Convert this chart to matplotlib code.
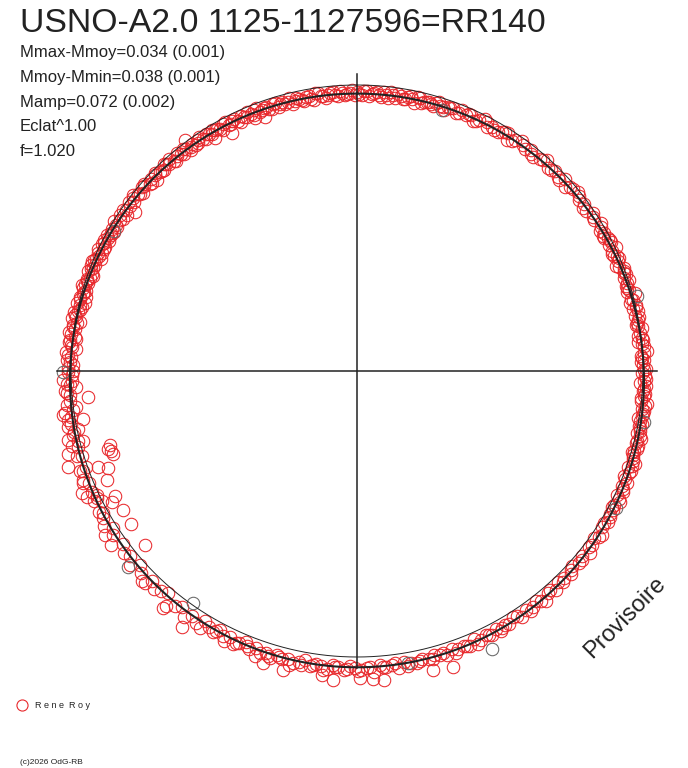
import numpy as np
import matplotlib.pyplot as plt

plt.rcParams['font.family'] = ['Liberation Sans', 'DejaVu Sans']

# observations: phase angle (deg, clockwise from top) and magnitude offset
# (radius = 1 + dmag, unit circle = mean magnitude)
top_phase = [0, 1, 2, 3, 4, 5, 6, 7, 8, 9, 10, 11, 12, 13, 14, 15, 16, 17, 18, 19,
             20, 21, 22, 23, 24, 25, 26, 27, 28, 29,
             0.5, 1.5, 2.5, 3.5, 4.5, 5.5, 6.5, 7.5, 8.5, 9.5, 10.5, 11.5, 12.5,
             13.5, 14.5, 15.5, 16.5, 17.5, 18.5, 19.5,
             30.5, 31.8, 33, 34.4, 35.6, 37, 38.2, 39.5, 40.8, 42, 43.3, 44.6, 46,
             47.2, 48.5, 49.8, 51, 52.4, 53.6, 55, 56.2, 57.5, 58.8, 60,
             21.5, 23.5, 25.5, 27.5, 29.5, 31.2, 32.4, 34, 36.3, 38.8, 41.4, 43.9,
             46.6, 49.2, 51.7, 54.3, 56.8, 59.4]
top_dmag = [-0.025, -0.035, -0.019, -0.031, -0.022, -0.040, -0.028, -0.016, -0.037, -0.026,
            -0.033, -0.019, -0.041, -0.022, -0.029, -0.026, -0.035, -0.017, -0.031, -0.023,
            -0.023, -0.032, -0.016, -0.028, -0.019, -0.037, -0.025, -0.013, -0.034, -0.023,
            -0.030, -0.021, -0.036, -0.026, -0.033, -0.019, -0.038, -0.027, -0.022, -0.034,
            -0.025, -0.031, -0.020, -0.036, -0.027, -0.033, -0.023, -0.030, -0.038, -0.026,
            -0.030, -0.017, -0.036, -0.020, -0.011, -0.026, -0.016, -0.031, -0.021, -0.006,
            -0.027, -0.016, -0.022, -0.010, -0.029, -0.013, -0.007, -0.021, -0.015, -0.024,
            -0.009, -0.016, -0.001, -0.019,
            -0.029, -0.020, -0.033, -0.018, -0.030, -0.024, -0.013, -0.030, -0.019, -0.027,
            -0.015, -0.024, -0.030, -0.018, -0.012, -0.025, -0.014, -0.008]

right_phase = [60.8, 61.7, 62.6, 63.5, 64.4, 65.3, 66.2, 67.1, 68, 68.9, 69.8, 70.7, 71.6,
               72.5, 73.4, 74.3, 75.2, 76.1, 77, 77.9, 78.8, 79.7, 80.6, 81.5, 82.4, 83.3,
               84.2, 85.1, 86, 86.9, 87.8, 88.7, 89.6,
               62, 65.8, 69.4, 73, 76.6, 80.2, 83.8, 87.4, 91, 94, 97, 100, 103, 106, 109,
               61.2, 63, 64.8, 66.6, 68.4, 70.2, 72, 73.8, 75.6, 77.4, 79.2, 81, 82.8, 84.6,
               86.4, 88.2, 89.9,
               90.5, 91.5, 92.5, 93.5, 94.5, 95.5, 96.5, 97.5, 98.5, 99.5, 100.5, 101.5,
               102.5, 103.5, 104.5, 105.5, 106.5, 107.5, 108.5, 109.5, 110.5, 111.5, 112.5,
               113.5, 114.5, 115.5, 116.5, 117.5, 118.5, 119.5,
               92, 93, 95, 96, 98, 99, 101, 102, 104, 105, 107, 108,
               121, 122.4, 123.8, 125.2, 126.6, 128, 129.4, 130.8, 132.2, 133.6, 135, 136.4,
               137.8, 139.2, 140.6, 142, 143.4, 144.8, 146.2, 147.6, 149,
               110, 112, 114, 116, 118, 120, 121.7, 124.5, 127.3, 130, 132.9, 135.7, 138.5,
               141.3, 144.1, 146.9, 149.7]
right_dmag = [-0.010, -0.020, -0.002, -0.014, 0.003, -0.020, -0.006, -0.010, -0.022, -0.001,
              -0.007, -0.012, 0.003, -0.013, -0.006, 0.010, -0.009, -0.016, 0.001, 0.005,
              -0.009, -0.002, -0.011, 0.009, -0.003, 0.002, -0.012, 0.006, 0.015, -0.006,
              0.004, -0.001, 0.011,
              -0.006, -0.015, -0.004, -0.011, 0.003, -0.007, 0.006, -0.004, 0.007, 0.001,
              0.013, 0.004, 0.014, 0.009, 0.018,
              -0.017, -0.005, -0.013, -0.003, -0.014, -0.002, -0.009, -0.016, -0.004, -0.010,
              0.003, -0.005, -0.010, 0.001, 0.007, -0.006, 0.004,
              -0.002, 0.012, -0.009, 0.006, 0.010, -0.003, 0.019, 0.005, 0.011, -0.003,
              0.015, 0.008, 0.003, 0.020, 0.007, 0.015, 0.002, 0.013, 0.026, 0.007,
              0.014, 0.002, 0.022, 0.012, 0.021, 0.008, 0.026, 0.012, 0.020, 0.016,
              0.004, 0.011, 0.008, 0.000, 0.014, 0.008, 0.003, 0.012, 0.010, 0.018, 0.008,
              0.016,
              0.024, 0.016, 0.030, 0.012, 0.023, 0.033, 0.017, 0.027, 0.013, 0.031,
              0.025, 0.019, 0.034, 0.024, 0.039, 0.019, 0.030, 0.023, 0.036, 0.019, 0.034,
              0.018, 0.009, 0.017, 0.020, 0.010, 0.023, 0.014, 0.025, 0.018, 0.029, 0.020,
              0.032, 0.021, 0.030, 0.035, 0.024, 0.029]

bottom_phase = [150.5, 151.7, 152.9, 154, 155.2, 156.4, 157.6, 158.8, 160, 161.2, 162.4,
                163.6, 164.8, 166, 167.2, 168.4, 169.6, 170.8, 172, 173.2, 174.4, 175.6,
                176.8, 178, 179.2, 162.1, 165.7, 175, 177, 179.4, 184.4, 186.6, 193.9, 197.8,
                180.3, 181.4, 182.5, 183.6, 184.7, 185.8, 186.9, 188, 189.1, 190.2, 191.3,
                192.4, 193.5, 194.6, 195.7, 196.8, 197.9, 199, 200.1, 201.2, 202.3, 203.4,
                204.5, 205.6, 206.7, 207.8, 208.9,
                151, 153.5, 156, 158.2, 160.6, 163, 165.2, 167.8, 170.2, 172.6, 175, 177.4,
                179.8, 182, 184.2, 186.4, 188.6, 190.8, 193, 195.2, 197.4, 199.6, 201.8, 204,
                206.2, 208.4]
bottom_dmag = [0.033, 0.025, 0.038, 0.028, 0.036, 0.022, 0.041, 0.030, 0.036, 0.026, 0.041,
               0.034, 0.029, 0.039, 0.031, 0.044, 0.037, 0.029, 0.048, 0.034, 0.041, 0.031,
               0.053, 0.039, 0.044, 0.088, 0.079, 0.084, 0.080, 0.073, 0.085, 0.070, 0.077,
               0.073,
               0.038, 0.032, 0.045, 0.037, 0.030, 0.048, 0.040, 0.034, 0.043, 0.028, 0.039,
               0.046, 0.034, 0.040, 0.030, 0.049, 0.035, 0.043, 0.030, 0.044, 0.026, 0.037,
               0.049, 0.031, 0.039, 0.024, 0.042,
               0.040, 0.031, 0.044, 0.035, 0.045, 0.030, 0.040, 0.036, 0.045, 0.030, 0.040,
               0.035, 0.048, 0.041, 0.036, 0.052, 0.039, 0.045, 0.055, 0.036, 0.044, 0.058,
               0.036, 0.041, 0.053, 0.033]

lowleft_phase = [210, 211.3, 212.6, 213.9, 215.2, 216.5, 217.8, 219.1, 220.4, 221.7, 223,
                 224.3, 225.6, 226.9, 228.2, 229.5, 230.8, 232.1, 233.4, 234.7, 236, 237.3,
                 238.6, 239.9, 211.4, 214.4, 219.3, 225, 230.6, 236, 237, 239.3,
                 240.8, 241.9, 242.7, 243.6, 244, 244.5, 245, 246, 246.4, 247.3, 248.2, 248.7,
                 249.7, 250, 250.5, 251.2, 251.6, 252.0, 252.6, 253.1, 253.3, 254, 254.8,
                 255.6, 256, 256.6, 257.4, 258.2, 259, 259.5, 260, 260.8, 261.5, 261.8,
                 262.6, 263.4, 264, 264.5, 265.2, 266, 266.8, 267.5, 268, 268.3, 269.1, 269.8,
                 241.3, 243, 245.5, 247.8, 250.2, 252.8, 255.2, 257.8, 260.4, 262.2, 265.6,
                 267.2]
lowleft_dmag = [0.035, 0.024, 0.044, 0.032, 0.052, 0.027, 0.039, 0.058, 0.018, 0.030, 0.043,
                0.024, 0.051, 0.033, 0.016, 0.045, 0.023, 0.034, 0.017, 0.052, 0.028, 0.013,
                0.037, 0.025, 0.053, 0.085, 0.070, 0.048, -0.041, -0.045, 0.051, -0.048,
                0.018, -0.030, -0.048, 0.026, 0.012, 0.008, 0.042, 0.052, -0.047, 0.015,
                0.030, -0.065, -0.034, 0.020, 0.005, -0.100, 0.065, -0.095, -0.088, 0.022,
                -0.100, 0.050, 0.010, -0.012, 0.005, 0.039, 0.018, -0.005, 0.030, 0.017,
                -0.028, 0.012, 0.039, 0.031, -0.010, 0.020, 0.010, -0.055, 0.008, 0.025,
                -0.015, 0.014, -0.002, 0.030, -0.004, 0.010,
                0.030, 0.002, 0.020, 0.036, 0.028, 0.006, 0.030, 0.012, 0.025, 0.003, 0.018,
                0.004]

left_phase = [270.5, 271.3, 272.1, 272.9, 273.7, 274.5, 275.3, 276.1, 276.9, 277.7, 278.5,
              279.3, 280.1, 280.9, 281.7, 282.5, 283.3, 284.1, 284.9, 285.7, 286.5, 287.3,
              288.1, 288.9, 289.7, 290.5, 291.3, 292.1, 292.9, 293.7, 294.5, 295.3, 296.1,
              296.9, 297.7, 298.5, 299.3,
              275.7, 276.5, 278.9, 280.5, 282.1, 283.7, 285.3, 286.9, 288.5, 290.1, 291.7,
              293.3, 294.9, 296.5, 298.1, 299.7,
              270, 271.8, 273.2, 274.8, 277.3, 279.7, 281.3, 283, 284.5, 286.1, 287.7, 289.3,
              291, 292.5, 294.1, 295.7, 297.3, 298.9,
              300.1, 300.9, 301.7, 302.5, 303.3, 304.1, 304.9, 305.7, 306.5, 307.3, 308.1,
              308.9, 309.7, 310.5, 311.3, 312.1, 312.9, 313.7, 314.5, 315.3, 316.1, 316.9,
              317.7, 318.5, 319.3, 320.1, 321, 322, 323, 324, 325, 326, 327, 328, 329, 323.3,
              301.3, 302.9, 304.5, 306.1, 307.7, 309.3, 310.9, 312.5, 314.1, 315.7, 317.3,
              318.9, 320.5, 321.5, 322.5, 323.5, 324.5, 325.5, 326.5, 327.5, 328.5, 329.5]
left_dmag = [0.009, -0.006, 0.016, 0.000, 0.021, -0.014, 0.003, 0.009, -0.007, 0.016, -0.003,
             0.006, -0.015, 0.001, 0.009, -0.009, -0.003, -0.021, 0.004, -0.004, -0.013,
             0.008, -0.010, -0.002, -0.018, 0.003, -0.009, -0.013, -0.001, -0.023, -0.006,
             0.001, -0.018, -0.010, -0.022, -0.006, -0.015,
             0.012, -0.010, 0.004, 0.013, -0.001, 0.008, -0.016, 0.002, -0.005, -0.014,
             0.002, -0.008, -0.017, -0.004, -0.012, -0.020,
             -0.006, 0.005, 0.012, 0.000, 0.008, -0.008, 0.004, -0.012, 0.002, -0.007,
             0.000, -0.012, -0.004, 0.004, -0.012, -0.020, -0.003, -0.016,
             -0.009, -0.022, -0.002, -0.017, -0.008, -0.028, -0.014, -0.046, -0.008, -0.022,
             -0.003, -0.017, -0.027, -0.012, -0.007, -0.023, -0.016, -0.034, -0.012, -0.019,
             -0.027, -0.011, -0.023, -0.009, -0.030, -0.018, -0.023, -0.014, -0.034, -0.017,
             -0.028, -0.012, -0.032, -0.023, -0.017, 0.007,
             -0.015, -0.024, -0.006, -0.018, -0.012, -0.021, -0.014, -0.028, -0.016, -0.024,
             -0.017, -0.026, -0.013, -0.029, -0.020, -0.025, -0.031, -0.019, -0.026, -0.017,
             -0.030, -0.022]

upleft_phase = [330, 331, 332, 333, 334, 335, 336, 337, 338, 339, 340, 341, 342, 343, 344,
                345, 346, 347, 348, 349, 350, 351, 352, 353, 354, 355, 356, 357, 358, 359,
                340.5, 341.5, 342.5, 343.5, 344.5, 345.5, 346.5, 347.5, 348.5, 349.5, 350.5,
                351.5, 352.5, 353.5, 354.5, 355.5, 356.5, 357.5, 358.5, 359.5,
                330.5, 331.5, 332.5, 333.5, 334.5, 335.5, 336.5, 337.5, 338.5, 339.5,
                332.3, 328.6, 340, 338]
upleft_dmag = [-0.022, -0.035, -0.015, -0.029, -0.020, -0.040, -0.026, -0.018, -0.034, -0.014,
               -0.030, -0.023, -0.038, -0.020, -0.028, -0.034, -0.017, -0.030, -0.026, -0.037,
               -0.024, -0.042, -0.020, -0.033, -0.028, -0.022, -0.037, -0.025, -0.031, -0.019,
               -0.026, -0.033, -0.021, -0.036, -0.024, -0.030, -0.039, -0.022, -0.032, -0.027,
               -0.035, -0.018, -0.029, -0.038, -0.024, -0.031, -0.020, -0.034, -0.027, -0.036,
               -0.028, -0.019, -0.032, -0.024, -0.031, -0.021, -0.033, -0.027, -0.021, -0.034,
               -0.060, -0.046, -0.056, -0.046]

# the few grey (other observer / rejected) points
grey_phase = [154.1, 229.4, 215.3, 269.8, 18, 75, 100, 118, 300, 170]
grey_dmag = [0.081, 0.053, -0.007, 0.028, -0.040, 0.012, 0.020, 0.024, -0.020, 0.036]

# fitted light curve: 1 + a0 + a1*cos(phase)
fit_a0 = 0.003
fit_a1 = -0.033

title = "USNO-A2.0 1125-1127596=RR140"
stats = ["Mmax-Mmoy=0.034 (0.001)", "Mmoy-Mmin=0.038 (0.001)",
         "Mamp=0.072 (0.002)", "Eclat^1.00", "f=1.020"]

W, H = 688, 768
CX, CY, RPX = 357, 371, 286
RED = '#e8282c'
INK = '#222222'


def polar_xy(phase_deg, dmag):
    th = np.radians(np.asarray(phase_deg, dtype=float))
    r = 1 + np.asarray(dmag, dtype=float)
    return r * np.sin(th), r * np.cos(th)


fig = plt.figure(figsize=(W / 100, H / 100), dpi=100)
ax = fig.add_axes([0, 0, 1, 1])
ax.set_xlim(-CX / RPX, (W - CX) / RPX)
ax.set_ylim(-(H - CY) / RPX, CY / RPX)
ax.axis('off')

red_phase = top_phase + right_phase + bottom_phase + lowleft_phase + left_phase + upleft_phase
red_dmag = top_dmag + right_dmag + bottom_dmag + lowleft_dmag + left_dmag + upleft_dmag
x, y = polar_xy(red_phase, red_dmag)
ax.plot(x, y, 'o', ms=9, mfc='none', mec=RED, mew=0.75, zorder=2)
gx, gy = polar_xy(grey_phase, grey_dmag)
ax.plot(gx, gy, 'o', ms=9, mfc='none', mec='#666666', mew=0.75, zorder=3)

t = np.linspace(0, 2 * np.pi, 721)
ax.plot(np.sin(t), np.cos(t), color=INK, lw=0.7, zorder=4)
rf = 1 + fit_a0 + fit_a1 * np.cos(t)
ax.plot(rf * np.sin(t), rf * np.cos(t), color=INK, lw=1.5, zorder=4)

ax.plot([-1.048, 1.05], [0, 0], color=INK, lw=1.1, zorder=4)
ax.plot([0, 0], [-1.04, 1.04], color=INK, lw=1.1, zorder=4)


def ftext(px, py, s, **kw):
    fig.text(px / W, 1 - py / H, s, color=INK, **kw)


ftext(20, 32, title, fontsize=24.3, va='baseline')
for i, s in enumerate(stats):
    ftext(20, 57 + 24.8 * i, s, fontsize=12, va='baseline')

ftext(625, 618, "Provisoire", fontsize=17, rotation=45, ha='center', va='center')

fig.lines.append(plt.Line2D([22 / W], [1 - 705 / H], marker='o', ms=8, mfc='none',
                            mec=RED, mew=0.8, transform=fig.transFigure))
ftext(35, 705, "R e n e  R o y", fontsize=6.5, va='center')
ftext(20, 763, "(c)2026 OdG-RB", fontsize=6, va='center')

fig.savefig('out.png', dpi=100, facecolor='white')
